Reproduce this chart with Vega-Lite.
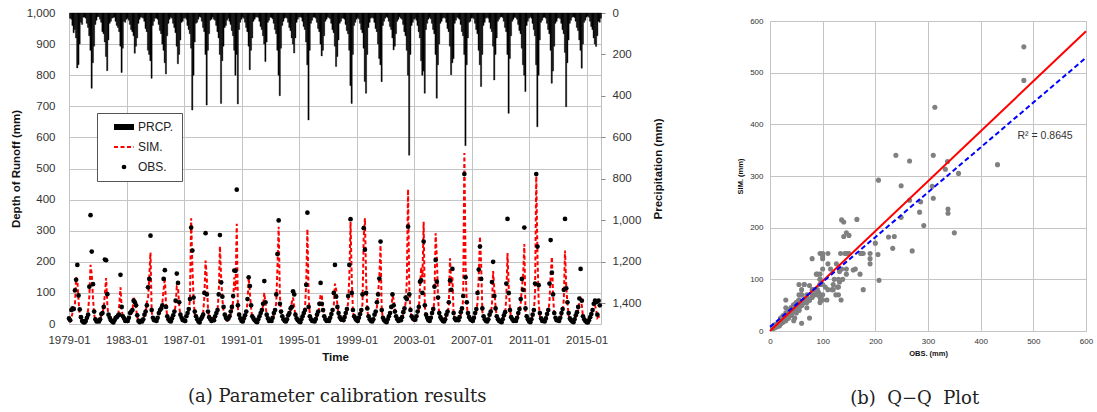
{
"$schema": "https://vega.github.io/schema/vega-lite/v6.json",
"background": "white",
"padding": {"left": 9, "top": 6, "right": 4, "bottom": 4},
"spacing": 71,
"config": {
  "view": {"stroke": "#bfbfbf"},
  "axis": {"labelFont": "Liberation Sans", "titleFont": "Liberation Sans", "labelColor": "#333333", "titleColor": "#111111", "gridColor": "#c4c4c4", "domain": false, "ticks": false, "labelFlush": false},
  "legend": {"strokeColor": "#555555", "fillColor": "white", "padding": 8, "rowPadding": 8, "symbolSize": 400, "symbolOffset": 13, "labelFont": "Liberation Sans", "labelFontSize": 12, "labelColor": "#222222", "labelOffset": 8, "symbolStrokeWidth": 2},
  "title": {"font": "DejaVu Serif", "fontWeight": "normal", "fontSize": 18, "color": "#222222", "frame": "bounds", "anchor": "middle"}
},
"datasets": {
"m": [
{"t":"1979-01","p":25,"s":10,"o":18},{"t":"1979-02","p":30,"s":8,"o":12},{"t":"1979-03","p":60,"s":20,"o":45},{"t":"1979-04","p":95,"s":35,"o":50},{"t":"1979-05","p":80,"s":40,"o":48},{"t":"1979-06","p":120,"s":60,"o":108},{"t":"1979-07","p":265,"s":150,"o":142},{"t":"1979-08","p":249,"s":140,"o":190},{"t":"1979-09","p":150,"s":75,"o":92},{"t":"1979-10","p":45,"s":25,"o":47},{"t":"1979-11","p":55,"s":18,"o":22},{"t":"1979-12","p":20,"s":10,"o":10},
{"t":"1980-01","p":20,"s":8,"o":6},{"t":"1980-02","p":25,"s":6,"o":5},{"t":"1980-03","p":50,"s":12,"o":10},{"t":"1980-04","p":70,"s":25,"o":20},{"t":"1980-05","p":110,"s":45,"o":30},{"t":"1980-06","p":180,"s":90,"o":120},{"t":"1980-07","p":363,"s":190,"o":350},{"t":"1980-08","p":240,"s":160,"o":233},{"t":"1980-09","p":160,"s":85,"o":128},{"t":"1980-10","p":55,"s":30,"o":40},{"t":"1980-11","p":35,"s":15,"o":15},{"t":"1980-12","p":18,"s":9,"o":8},
{"t":"1981-01","p":18,"s":7,"o":10},{"t":"1981-02","p":30,"s":6,"o":8},{"t":"1981-03","p":45,"s":14,"o":15},{"t":"1981-04","p":90,"s":30,"o":32},{"t":"1981-05","p":100,"s":40,"o":35},{"t":"1981-06","p":140,"s":50,"o":55},{"t":"1981-07","p":210,"s":98,"o":207},{"t":"1981-08","p":278,"s":148,"o":205},{"t":"1981-09","p":130,"s":60,"o":96},{"t":"1981-10","p":50,"s":25,"o":30},{"t":"1981-11","p":40,"s":18,"o":20},{"t":"1981-12","p":25,"s":10,"o":12},
{"t":"1982-01","p":22,"s":9,"o":8},{"t":"1982-02","p":20,"s":6,"o":5},{"t":"1982-03","p":40,"s":10,"o":12},{"t":"1982-04","p":60,"s":18,"o":20},{"t":"1982-05","p":70,"s":20,"o":22},{"t":"1982-06","p":90,"s":25,"o":28},{"t":"1982-07","p":160,"s":60,"o":30},{"t":"1982-08","p":287,"s":118,"o":158},{"t":"1982-09","p":170,"s":50,"o":55},{"t":"1982-10","p":40,"s":20,"o":25},{"t":"1982-11","p":45,"s":15,"o":18},{"t":"1982-12","p":30,"s":12,"o":10},
{"t":"1983-01","p":25,"s":10,"o":12},{"t":"1983-02","p":35,"s":9,"o":10},{"t":"1983-03","p":55,"s":16,"o":20},{"t":"1983-04","p":80,"s":28,"o":35},{"t":"1983-05","p":90,"s":32,"o":40},{"t":"1983-06","p":110,"s":40,"o":45},{"t":"1983-07","p":194,"s":88,"o":75},{"t":"1983-08","p":160,"s":70,"o":70},{"t":"1983-09","p":120,"s":50,"o":60},{"t":"1983-10","p":50,"s":22,"o":28},{"t":"1983-11","p":30,"s":12,"o":10},{"t":"1983-12","p":20,"s":8,"o":6},
{"t":"1984-01","p":20,"s":8,"o":10},{"t":"1984-02","p":25,"s":7,"o":8},{"t":"1984-03","p":40,"s":12,"o":15},{"t":"1984-04","p":75,"s":26,"o":30},{"t":"1984-05","p":90,"s":35,"o":40},{"t":"1984-06","p":180,"s":70,"o":60},{"t":"1984-07","p":200,"s":80,"o":118},{"t":"1984-08","p":230,"s":150,"o":145},{"t":"1984-09","p":315,"s":230,"o":284},{"t":"1984-10","p":60,"s":40,"o":45},{"t":"1984-11","p":40,"s":18,"o":20},{"t":"1984-12","p":25,"s":10,"o":12},
{"t":"1985-01","p":25,"s":10,"o":12},{"t":"1985-02","p":30,"s":9,"o":10},{"t":"1985-03","p":55,"s":15,"o":20},{"t":"1985-04","p":85,"s":30,"o":35},{"t":"1985-05","p":100,"s":40,"o":45},{"t":"1985-06","p":150,"s":55,"o":50},{"t":"1985-07","p":180,"s":70,"o":60},{"t":"1985-08","p":240,"s":110,"o":145},{"t":"1985-09","p":294,"s":150,"o":173},{"t":"1985-10","p":110,"s":60,"o":55},{"t":"1985-11","p":50,"s":22,"o":25},{"t":"1985-12","p":30,"s":12,"o":15},
{"t":"1986-01","p":20,"s":8,"o":10},{"t":"1986-02","p":25,"s":7,"o":8},{"t":"1986-03","p":50,"s":14,"o":18},{"t":"1986-04","p":70,"s":25,"o":28},{"t":"1986-05","p":95,"s":38,"o":40},{"t":"1986-06","p":160,"s":60,"o":75},{"t":"1986-07","p":245,"s":120,"o":162},{"t":"1986-08","p":200,"s":115,"o":132},{"t":"1986-09","p":130,"s":60,"o":70},{"t":"1986-10","p":45,"s":25,"o":30},{"t":"1986-11","p":40,"s":18,"o":20},{"t":"1986-12","p":25,"s":10,"o":12},
{"t":"1987-01","p":22,"s":9,"o":12},{"t":"1987-02","p":30,"s":8,"o":10},{"t":"1987-03","p":60,"s":18,"o":25},{"t":"1987-04","p":80,"s":30,"o":35},{"t":"1987-05","p":100,"s":40,"o":48},{"t":"1987-06","p":170,"s":80,"o":80},{"t":"1987-07","p":468,"s":340,"o":310},{"t":"1987-08","p":300,"s":183,"o":236},{"t":"1987-09","p":140,"s":80,"o":85},{"t":"1987-10","p":50,"s":30,"o":40},{"t":"1987-11","p":45,"s":20,"o":25},{"t":"1987-12","p":30,"s":12,"o":15},
{"t":"1988-01","p":18,"s":8,"o":8},{"t":"1988-02","p":20,"s":6,"o":5},{"t":"1988-03","p":40,"s":12,"o":15},{"t":"1988-04","p":70,"s":25,"o":22},{"t":"1988-05","p":90,"s":35,"o":30},{"t":"1988-06","p":200,"s":90,"o":100},{"t":"1988-07","p":444,"s":204,"o":292},{"t":"1988-08","p":180,"s":150,"o":95},{"t":"1988-09","p":100,"s":45,"o":40},{"t":"1988-10","p":35,"s":20,"o":22},{"t":"1988-11","p":30,"s":14,"o":15},{"t":"1988-12","p":20,"s":9,"o":10},
{"t":"1989-01","p":30,"s":10,"o":15},{"t":"1989-02","p":35,"s":9,"o":12},{"t":"1989-03","p":60,"s":18,"o":25},{"t":"1989-04","p":90,"s":32,"o":35},{"t":"1989-05","p":120,"s":45,"o":45},{"t":"1989-06","p":200,"s":100,"o":95},{"t":"1989-07","p":436,"s":250,"o":286},{"t":"1989-08","p":230,"s":150,"o":134},{"t":"1989-09","p":160,"s":80,"o":88},{"t":"1989-10","p":70,"s":40,"o":55},{"t":"1989-11","p":60,"s":25,"o":30},{"t":"1989-12","p":35,"s":14,"o":20},
{"t":"1990-01","p":25,"s":10,"o":15},{"t":"1990-02","p":40,"s":12,"o":18},{"t":"1990-03","p":55,"s":18,"o":25},{"t":"1990-04","p":85,"s":30,"o":40},{"t":"1990-05","p":110,"s":40,"o":55},{"t":"1990-06","p":180,"s":75,"o":90},{"t":"1990-07","p":300,"s":150,"o":172},{"t":"1990-08","p":200,"s":110,"o":171},{"t":"1990-09","p":439,"s":322,"o":432},{"t":"1990-10","p":80,"s":50,"o":60},{"t":"1990-11","p":45,"s":22,"o":30},{"t":"1990-12","p":30,"s":12,"o":18},
{"t":"1991-01","p":20,"s":8,"o":10},{"t":"1991-02","p":25,"s":7,"o":8},{"t":"1991-03","p":45,"s":14,"o":18},{"t":"1991-04","p":70,"s":25,"o":28},{"t":"1991-05","p":90,"s":35,"o":40},{"t":"1991-06","p":160,"s":70,"o":80},{"t":"1991-07","p":274,"s":150,"o":150},{"t":"1991-08","p":180,"s":100,"o":122},{"t":"1991-09","p":120,"s":50,"o":60},{"t":"1991-10","p":40,"s":20,"o":25},{"t":"1991-11","p":30,"s":15,"o":18},{"t":"1991-12","p":20,"s":9,"o":12},
{"t":"1992-01","p":18,"s":7,"o":8},{"t":"1992-02","p":22,"s":6,"o":6},{"t":"1992-03","p":40,"s":12,"o":15},{"t":"1992-04","p":65,"s":22,"o":25},{"t":"1992-05","p":80,"s":30,"o":35},{"t":"1992-06","p":110,"s":40,"o":45},{"t":"1992-07","p":150,"s":60,"o":65},{"t":"1992-08","p":234,"s":100,"o":138},{"t":"1992-09","p":140,"s":65,"o":70},{"t":"1992-10","p":45,"s":25,"o":30},{"t":"1992-11","p":35,"s":15,"o":18},{"t":"1992-12","p":20,"s":8,"o":10},
{"t":"1993-01","p":22,"s":9,"o":12},{"t":"1993-02","p":28,"s":8,"o":10},{"t":"1993-03","p":50,"s":15,"o":20},{"t":"1993-04","p":80,"s":30,"o":35},{"t":"1993-05","p":100,"s":40,"o":45},{"t":"1993-06","p":180,"s":70,"o":95},{"t":"1993-07","p":300,"s":182,"o":225},{"t":"1993-08","p":399,"s":313,"o":333},{"t":"1993-09","p":170,"s":90,"o":65},{"t":"1993-10","p":60,"s":35,"o":40},{"t":"1993-11","p":40,"s":20,"o":25},{"t":"1993-12","p":25,"s":12,"o":15},
{"t":"1994-01","p":20,"s":8,"o":10},{"t":"1994-02","p":25,"s":7,"o":8},{"t":"1994-03","p":45,"s":12,"o":15},{"t":"1994-04","p":70,"s":25,"o":28},{"t":"1994-05","p":85,"s":30,"o":35},{"t":"1994-06","p":120,"s":45,"o":50},{"t":"1994-07","p":150,"s":70,"o":55},{"t":"1994-08","p":193,"s":85,"o":105},{"t":"1994-09","p":120,"s":55,"o":95},{"t":"1994-10","p":45,"s":25,"o":30},{"t":"1994-11","p":30,"s":15,"o":18},{"t":"1994-12","p":20,"s":9,"o":12},
{"t":"1995-01","p":18,"s":7,"o":8},{"t":"1995-02","p":22,"s":6,"o":6},{"t":"1995-03","p":40,"s":12,"o":15},{"t":"1995-04","p":65,"s":22,"o":25},{"t":"1995-05","p":80,"s":30,"o":35},{"t":"1995-06","p":140,"s":50,"o":45},{"t":"1995-07","p":250,"s":130,"o":126},{"t":"1995-08","p":516,"s":305,"o":358},{"t":"1995-09","p":180,"s":90,"o":55},{"t":"1995-10","p":50,"s":30,"o":25},{"t":"1995-11","p":35,"s":15,"o":15},{"t":"1995-12","p":20,"s":8,"o":10},
{"t":"1996-01","p":20,"s":8,"o":10},{"t":"1996-02","p":25,"s":7,"o":8},{"t":"1996-03","p":45,"s":13,"o":16},{"t":"1996-04","p":75,"s":26,"o":30},{"t":"1996-05","p":90,"s":35,"o":40},{"t":"1996-06","p":150,"s":55,"o":65},{"t":"1996-07","p":207,"s":95,"o":132},{"t":"1996-08","p":180,"s":90,"o":65},{"t":"1996-09","p":110,"s":50,"o":45},{"t":"1996-10","p":40,"s":22,"o":25},{"t":"1996-11","p":30,"s":14,"o":15},{"t":"1996-12","p":20,"s":9,"o":10},
{"t":"1997-01","p":22,"s":9,"o":12},{"t":"1997-02","p":28,"s":8,"o":10},{"t":"1997-03","p":50,"s":15,"o":20},{"t":"1997-04","p":80,"s":28,"o":32},{"t":"1997-05","p":95,"s":38,"o":45},{"t":"1997-06","p":160,"s":60,"o":100},{"t":"1997-07","p":258,"s":130,"o":190},{"t":"1997-08","p":210,"s":110,"o":88},{"t":"1997-09","p":130,"s":60,"o":55},{"t":"1997-10","p":50,"s":28,"o":35},{"t":"1997-11","p":40,"s":18,"o":22},{"t":"1997-12","p":25,"s":10,"o":15},
{"t":"1998-01","p":25,"s":10,"o":15},{"t":"1998-02","p":30,"s":9,"o":12},{"t":"1998-03","p":55,"s":16,"o":22},{"t":"1998-04","p":85,"s":30,"o":35},{"t":"1998-05","p":100,"s":40,"o":48},{"t":"1998-06","p":180,"s":70,"o":90},{"t":"1998-07","p":350,"s":150,"o":190},{"t":"1998-08","p":436,"s":328,"o":337},{"t":"1998-09","p":200,"s":145,"o":100},{"t":"1998-10","p":60,"s":40,"o":45},{"t":"1998-11","p":45,"s":22,"o":25},{"t":"1998-12","p":30,"s":12,"o":18},
{"t":"1999-01","p":22,"s":9,"o":12},{"t":"1999-02","p":28,"s":8,"o":10},{"t":"1999-03","p":50,"s":15,"o":20},{"t":"1999-04","p":80,"s":28,"o":32},{"t":"1999-05","p":95,"s":38,"o":45},{"t":"1999-06","p":170,"s":65,"o":95},{"t":"1999-07","p":330,"s":280,"o":308},{"t":"1999-08","p":387,"s":340,"o":239},{"t":"1999-09","p":200,"s":140,"o":100},{"t":"1999-10","p":70,"s":45,"o":50},{"t":"1999-11","p":45,"s":20,"o":25},{"t":"1999-12","p":25,"s":12,"o":15},
{"t":"2000-01","p":20,"s":8,"o":10},{"t":"2000-02","p":25,"s":7,"o":8},{"t":"2000-03","p":45,"s":13,"o":15},{"t":"2000-04","p":75,"s":26,"o":30},{"t":"2000-05","p":90,"s":35,"o":40},{"t":"2000-06","p":150,"s":55,"o":70},{"t":"2000-07","p":220,"s":100,"o":95},{"t":"2000-08","p":250,"s":150,"o":146},{"t":"2000-09","p":331,"s":253,"o":265},{"t":"2000-10","p":60,"s":45,"o":45},{"t":"2000-11","p":40,"s":18,"o":20},{"t":"2000-12","p":25,"s":10,"o":12},
{"t":"2001-01","p":18,"s":7,"o":8},{"t":"2001-02","p":22,"s":6,"o":6},{"t":"2001-03","p":40,"s":12,"o":15},{"t":"2001-04","p":65,"s":22,"o":25},{"t":"2001-05","p":80,"s":30,"o":35},{"t":"2001-06","p":120,"s":45,"o":55},{"t":"2001-07","p":178,"s":90,"o":95},{"t":"2001-08","p":160,"s":80,"o":60},{"t":"2001-09","p":100,"s":45,"o":40},{"t":"2001-10","p":40,"s":20,"o":25},{"t":"2001-11","p":30,"s":14,"o":15},{"t":"2001-12","p":18,"s":8,"o":10},
{"t":"2002-01","p":25,"s":10,"o":15},{"t":"2002-02","p":30,"s":9,"o":12},{"t":"2002-03","p":55,"s":16,"o":22},{"t":"2002-04","p":90,"s":30,"o":38},{"t":"2002-05","p":110,"s":42,"o":50},{"t":"2002-06","p":180,"s":70,"o":85},{"t":"2002-07","p":300,"s":140,"o":80},{"t":"2002-08","p":686,"s":433,"o":313},{"t":"2002-09","p":200,"s":110,"o":95},{"t":"2002-10","p":60,"s":40,"o":45},{"t":"2002-11","p":45,"s":20,"o":25},{"t":"2002-12","p":30,"s":12,"o":18},
{"t":"2003-01","p":25,"s":10,"o":15},{"t":"2003-02","p":35,"s":10,"o":14},{"t":"2003-03","p":60,"s":18,"o":25},{"t":"2003-04","p":90,"s":32,"o":40},{"t":"2003-05","p":120,"s":45,"o":55},{"t":"2003-06","p":230,"s":120,"o":136},{"t":"2003-07","p":300,"s":183,"o":140},{"t":"2003-08","p":280,"s":150,"o":100},{"t":"2003-09","p":387,"s":329,"o":265},{"t":"2003-10","p":80,"s":55,"o":60},{"t":"2003-11","p":50,"s":25,"o":30},{"t":"2003-12","p":30,"s":14,"o":20},
{"t":"2004-01","p":22,"s":9,"o":12},{"t":"2004-02","p":28,"s":8,"o":10},{"t":"2004-03","p":50,"s":15,"o":20},{"t":"2004-04","p":80,"s":28,"o":35},{"t":"2004-05","p":100,"s":40,"o":48},{"t":"2004-06","p":200,"s":80,"o":120},{"t":"2004-07","p":411,"s":292,"o":206},{"t":"2004-08","p":250,"s":215,"o":136},{"t":"2004-09","p":150,"s":80,"o":85},{"t":"2004-10","p":50,"s":30,"o":35},{"t":"2004-11","p":40,"s":18,"o":22},{"t":"2004-12","p":25,"s":10,"o":15},
{"t":"2005-01","p":20,"s":8,"o":10},{"t":"2005-02","p":25,"s":7,"o":8},{"t":"2005-03","p":45,"s":13,"o":15},{"t":"2005-04","p":75,"s":26,"o":30},{"t":"2005-05","p":90,"s":35,"o":40},{"t":"2005-06","p":160,"s":60,"o":70},{"t":"2005-07","p":298,"s":211,"o":140},{"t":"2005-08","p":240,"s":130,"o":110},{"t":"2005-09","p":220,"s":150,"o":177},{"t":"2005-10","p":50,"s":30,"o":35},{"t":"2005-11","p":35,"s":16,"o":18},{"t":"2005-12","p":20,"s":9,"o":12},
{"t":"2006-01","p":25,"s":10,"o":15},{"t":"2006-02","p":30,"s":9,"o":12},{"t":"2006-03","p":55,"s":16,"o":22},{"t":"2006-04","p":90,"s":30,"o":38},{"t":"2006-05","p":110,"s":42,"o":50},{"t":"2006-06","p":200,"s":80,"o":90},{"t":"2006-07","p":640,"s":550,"o":482},{"t":"2006-08","p":250,"s":185,"o":150},{"t":"2006-09","p":120,"s":60,"o":70},{"t":"2006-10","p":45,"s":25,"o":35},{"t":"2006-11","p":40,"s":18,"o":22},{"t":"2006-12","p":25,"s":10,"o":15},
{"t":"2007-01","p":22,"s":9,"o":12},{"t":"2007-02","p":28,"s":8,"o":10},{"t":"2007-03","p":50,"s":15,"o":20},{"t":"2007-04","p":80,"s":28,"o":35},{"t":"2007-05","p":100,"s":40,"o":48},{"t":"2007-06","p":180,"s":70,"o":100},{"t":"2007-07","p":250,"s":150,"o":175},{"t":"2007-08","p":355,"s":281,"o":249},{"t":"2007-09","p":200,"s":190,"o":145},{"t":"2007-10","p":60,"s":40,"o":50},{"t":"2007-11","p":45,"s":20,"o":25},{"t":"2007-12","p":25,"s":12,"o":15},
{"t":"2008-01","p":20,"s":8,"o":10},{"t":"2008-02","p":25,"s":7,"o":8},{"t":"2008-03","p":45,"s":13,"o":15},{"t":"2008-04","p":75,"s":26,"o":30},{"t":"2008-05","p":90,"s":35,"o":40},{"t":"2008-06","p":160,"s":60,"o":135},{"t":"2008-07","p":323,"s":170,"o":200},{"t":"2008-08","p":200,"s":110,"o":90},{"t":"2008-09","p":120,"s":55,"o":50},{"t":"2008-10","p":40,"s":22,"o":25},{"t":"2008-11","p":30,"s":14,"o":15},{"t":"2008-12","p":20,"s":9,"o":10},
{"t":"2009-01","p":18,"s":7,"o":8},{"t":"2009-02","p":22,"s":6,"o":6},{"t":"2009-03","p":40,"s":12,"o":15},{"t":"2009-04","p":70,"s":24,"o":28},{"t":"2009-05","p":90,"s":34,"o":38},{"t":"2009-06","p":200,"s":85,"o":130},{"t":"2009-07","p":484,"s":228,"o":338},{"t":"2009-08","p":220,"s":120,"o":100},{"t":"2009-09","p":110,"s":50,"o":45},{"t":"2009-10","p":40,"s":20,"o":22},{"t":"2009-11","p":30,"s":14,"o":15},{"t":"2009-12","p":20,"s":8,"o":10},
{"t":"2010-01","p":22,"s":9,"o":12},{"t":"2010-02","p":30,"s":8,"o":10},{"t":"2010-03","p":55,"s":16,"o":20},{"t":"2010-04","p":85,"s":30,"o":35},{"t":"2010-05","p":100,"s":40,"o":48},{"t":"2010-06","p":170,"s":65,"o":80},{"t":"2010-07","p":250,"s":120,"o":145},{"t":"2010-08","p":300,"s":150,"o":110},{"t":"2010-09","p":379,"s":257,"o":310},{"t":"2010-10","p":60,"s":40,"o":50},{"t":"2010-11","p":40,"s":20,"o":25},{"t":"2010-12","p":25,"s":12,"o":15},
{"t":"2011-01","p":18,"s":7,"o":8},{"t":"2011-02","p":25,"s":7,"o":6},{"t":"2011-03","p":50,"s":14,"o":15},{"t":"2011-04","p":80,"s":28,"o":30},{"t":"2011-05","p":110,"s":42,"o":45},{"t":"2011-06","p":250,"s":100,"o":130},{"t":"2011-07","p":549,"s":485,"o":482},{"t":"2011-08","p":300,"s":220,"o":249},{"t":"2011-09","p":130,"s":70,"o":125},{"t":"2011-10","p":45,"s":25,"o":35},{"t":"2011-11","p":35,"s":15,"o":18},{"t":"2011-12","p":22,"s":9,"o":10},
{"t":"2012-01","p":20,"s":8,"o":10},{"t":"2012-02","p":25,"s":7,"o":8},{"t":"2012-03","p":50,"s":15,"o":18},{"t":"2012-04","p":80,"s":28,"o":32},{"t":"2012-05","p":100,"s":40,"o":45},{"t":"2012-06","p":180,"s":70,"o":130},{"t":"2012-07","p":339,"s":155,"o":270},{"t":"2012-08","p":280,"s":216,"o":165},{"t":"2012-09","p":160,"s":90,"o":95},{"t":"2012-10","p":50,"s":30,"o":35},{"t":"2012-11","p":40,"s":18,"o":20},{"t":"2012-12","p":25,"s":10,"o":12},
{"t":"2013-01","p":22,"s":9,"o":12},{"t":"2013-02","p":28,"s":8,"o":10},{"t":"2013-03","p":50,"s":15,"o":20},{"t":"2013-04","p":80,"s":28,"o":35},{"t":"2013-05","p":100,"s":40,"o":48},{"t":"2013-06","p":190,"s":80,"o":110},{"t":"2013-07","p":452,"s":236,"o":338},{"t":"2013-08","p":240,"s":120,"o":115},{"t":"2013-09","p":130,"s":65,"o":70},{"t":"2013-10","p":50,"s":28,"o":35},{"t":"2013-11","p":35,"s":16,"o":18},{"t":"2013-12","p":20,"s":9,"o":12},
{"t":"2014-01","p":18,"s":7,"o":8},{"t":"2014-02","p":22,"s":6,"o":6},{"t":"2014-03","p":40,"s":12,"o":15},{"t":"2014-04","p":70,"s":24,"o":28},{"t":"2014-05","p":85,"s":32,"o":38},{"t":"2014-06","p":130,"s":45,"o":55},{"t":"2014-07","p":180,"s":70,"o":82},{"t":"2014-08","p":266,"s":80,"o":177},{"t":"2014-09","p":150,"s":60,"o":75},{"t":"2014-10","p":45,"s":22,"o":25},{"t":"2014-11","p":35,"s":14,"o":15},{"t":"2014-12","p":20,"s":8,"o":10},
{"t":"2015-01","p":15,"s":6,"o":6},{"t":"2015-02","p":20,"s":5,"o":5},{"t":"2015-03","p":40,"s":10,"o":12},{"t":"2015-04","p":65,"s":20,"o":22},{"t":"2015-05","p":80,"s":28,"o":32},{"t":"2015-06","p":120,"s":40,"o":45},{"t":"2015-07","p":150,"s":55,"o":65},{"t":"2015-08","p":161,"s":60,"o":75},{"t":"2015-09","p":110,"s":45,"o":70},{"t":"2015-10","p":40,"s":20,"o":30},{"t":"2015-11","p":45,"s":25,"o":75},{"t":"2015-12","p":25,"s":15,"o":60}
]
},
"hconcat": [
{
  "width": 532,
  "height": 311,
  "title": {"text": "(a) Parameter calibration results", "orient": "bottom", "offset": 25},
  "data": {"name": "m"},
  "layer": [
    {
      "mark": {"type": "bar", "binSpacing": 0, "stroke": "#000000", "strokeWidth": 0.4},
      "encoding": {
        "x": {"field": "t", "type": "temporal", "timeUnit": "utcyearmonth",
          "scale": {"domain": [{"year": 1979, "month": 1, "date": 1, "utc": true}, {"year": 2016, "month": 1, "date": 1, "utc": true}], "nice": false},
          "axis": {
            "values": [
              {"year": 1979, "month": 1, "date": 1, "utc": true}, {"year": 1983, "month": 1, "date": 1, "utc": true},
              {"year": 1987, "month": 1, "date": 1, "utc": true}, {"year": 1991, "month": 1, "date": 1, "utc": true},
              {"year": 1995, "month": 1, "date": 1, "utc": true}, {"year": 1999, "month": 1, "date": 1, "utc": true},
              {"year": 2003, "month": 1, "date": 1, "utc": true}, {"year": 2007, "month": 1, "date": 1, "utc": true},
              {"year": 2011, "month": 1, "date": 1, "utc": true}, {"year": 2015, "month": 1, "date": 1, "utc": true}],
            "tickCount": {"interval": "year", "step": 1},
            "labelExpr": "(utcyear(datum.value) - 1979) % 4 == 0 ? utcFormat(datum.value, '%Y-%m') : ''",
            "labelOverlap": false, "labelFlush": false,
            "grid": true,
            "gridOpacity": {"condition": {"test": "(utcyear(datum.value) - 1979) % 4 == 0", "value": 1}, "value": 0},
            "labelFontSize": 11.5, "labelPadding": 10,
            "title": "Time", "titleFontSize": 11.5, "titleFontWeight": "bold", "titlePadding": 6}
        },
        "y": {"field": "p", "type": "quantitative",
          "scale": {"domain": [0, 1500], "reverse": true, "nice": false, "zero": true},
          "axis": {"orient": "right", "values": [0, 200, 400, 600, 800, 1000, 1200, 1400], "tickCount": 20, "format": ",d", "grid": false, "labelOverlap": false,
            "ticks": true, "tickSize": 4, "tickColor": "#888888", "labelFontSize": 11.5, "labelPadding": 7,
            "title": "Precipitation (mm)", "titleAngle": 270, "titleBaseline": "top", "titleFontSize": 11.5, "titleFontWeight": "bold", "titlePadding": 12}},
        "color": {"datum": "PRCP.", "type": "nominal",
          "scale": {"domain": ["PRCP.", "SIM.", "OBS."], "range": ["#000000", "#ff0000", "#000000"]},
          "legend": {"title": null, "orient": "none", "legendX": 28, "legendY": 100,
            "encode": {"symbols": {"update": {
              "shape": {"signal": "datum.value === 'PRCP.' ? 'M-1,-0.3H1V0.3H-1Z' : (datum.value === 'SIM.' ? 'M-1,0H1' : 'circle')"},
              "size": {"signal": "datum.value === 'OBS.' ? 22 : 400"},
              "fill": {"signal": "datum.value === 'SIM.' ? 'transparent' : '#000000'"},
              "stroke": {"signal": "datum.value === 'SIM.' ? '#ff0000' : '#000000'"},
              "strokeWidth": {"signal": "datum.value === 'SIM.' ? 2 : 0"},
              "strokeDash": {"signal": "datum.value === 'SIM.' ? [4, 2.5] : [1, 0]"},
              "opacity": {"value": 1}
            }}}}
        }
      }
    },
    {
      "mark": {"type": "line", "strokeWidth": 2, "strokeDash": [4, 2.5]},
      "encoding": {
        "x": {"field": "t", "type": "temporal", "timeUnit": "utcyearmonth", "axis": null},
        "y": {"field": "s", "type": "quantitative",
          "scale": {"domain": [0, 1000], "nice": false},
          "axis": {"orient": "left", "values": [0, 100, 200, 300, 400, 500, 600, 700, 800, 900, 1000], "tickCount": 20, "format": ",d", "grid": true, "labelOverlap": false,
            "labelFontSize": 11.5, "labelPadding": 14,
            "title": "Depth of Runoff (mm)", "titleFontSize": 11.5, "titleFontWeight": "bold", "titlePadding": 5}},
        "color": {"datum": "SIM.", "type": "nominal",
          "legend": {"title": null, "orient": "none", "legendX": 28, "legendY": 100,
            "encode": {"symbols": {"update": {
              "shape": {"signal": "datum.value === 'PRCP.' ? 'M-1,-0.3H1V0.3H-1Z' : (datum.value === 'SIM.' ? 'M-1,0H1' : 'circle')"},
              "size": {"signal": "datum.value === 'OBS.' ? 22 : 400"},
              "fill": {"signal": "datum.value === 'SIM.' ? 'transparent' : '#000000'"},
              "stroke": {"signal": "datum.value === 'SIM.' ? '#ff0000' : '#000000'"},
              "strokeWidth": {"signal": "datum.value === 'SIM.' ? 2 : 0"},
              "strokeDash": {"signal": "datum.value === 'SIM.' ? [4, 2.5] : [1, 0]"},
              "opacity": {"value": 1}
            }}}}}
      }
    },
    {
      "mark": {"type": "point", "filled": true, "size": 22, "opacity": 1},
      "encoding": {
        "x": {"field": "t", "type": "temporal", "timeUnit": "utcyearmonth", "axis": null},
        "y": {"field": "o", "type": "quantitative", "scale": {"domain": [0, 1000], "nice": false}, "axis": null},
        "color": {"datum": "OBS.", "type": "nominal",
          "legend": {"title": null, "orient": "none", "legendX": 28, "legendY": 100,
            "encode": {"symbols": {"update": {
              "shape": {"signal": "datum.value === 'PRCP.' ? 'M-1,-0.3H1V0.3H-1Z' : (datum.value === 'SIM.' ? 'M-1,0H1' : 'circle')"},
              "size": {"signal": "datum.value === 'OBS.' ? 22 : 400"},
              "fill": {"signal": "datum.value === 'SIM.' ? 'transparent' : '#000000'"},
              "stroke": {"signal": "datum.value === 'SIM.' ? '#ff0000' : '#000000'"},
              "strokeWidth": {"signal": "datum.value === 'SIM.' ? 2 : 0"},
              "strokeDash": {"signal": "datum.value === 'SIM.' ? [4, 2.5] : [1, 0]"},
              "opacity": {"value": 1}
            }}}}}
      }
    }
  ],
  "resolve": {"scale": {"y": "independent"}, "axis": {"x": "independent", "y": "independent"}}
},
{
  "spacing": 2,
  "vconcat": [
    {
      "width": 316,
      "height": 1,
      "view": {"stroke": null},
      "data": {"values": []},
      "mark": {"type": "point", "opacity": 0},
      "encoding": {}
    },
    {
      "width": 316,
      "height": 310,
      "title": {"text": "(b)\u00a0\u00a0Q\u2212Q\u00a0\u00a0Plot", "orient": "bottom", "offset": 33},
      "layer": [
        {
          "data": {"name": "m"},
          "mark": {"type": "circle", "color": "#808080", "opacity": 1, "size": 26},
          "encoding": {
            "x": {"field": "o", "type": "quantitative", "scale": {"domain": [0, 600], "nice": false},
              "axis": {"values": [0, 100, 200, 300, 400, 500, 600], "tickCount": 20, "grid": true, "labelOverlap": false, "labelFontSize": 8, "labelPadding": 6,
                "title": "OBS. (mm)", "titleFontSize": 7.5, "titleFontWeight": "bold", "titlePadding": 4}},
            "y": {"field": "s", "type": "quantitative", "scale": {"domain": [0, 600], "nice": false},
              "axis": {"values": [0, 100, 200, 300, 400, 500, 600], "tickCount": 20, "grid": true, "labelOverlap": false, "labelFontSize": 8, "labelPadding": 7,
                "title": "SIM. (mm)", "titleFontSize": 7.5, "titleFontWeight": "bold", "titlePadding": 5}}
          }
        },
        {
          "data": {"values": [{"ox": 0, "sy": 0}, {"ox": 600, "sy": 580}]},
          "mark": {"type": "line", "color": "#ff0000", "strokeWidth": 2},
          "encoding": {"x": {"field": "ox", "type": "quantitative", "axis": null}, "y": {"field": "sy", "type": "quantitative", "axis": null}}
        },
        {
          "data": {"values": [{"ox": 0, "sy": 8}, {"ox": 600, "sy": 529}]},
          "mark": {"type": "line", "color": "#0000ff", "strokeWidth": 2, "strokeDash": [5, 3]},
          "encoding": {"x": {"field": "ox", "type": "quantitative", "axis": null}, "y": {"field": "sy", "type": "quantitative", "axis": null}}
        },
        {
          "data": {"values": [{"ox": 470, "sy": 377, "label": "R\u00b2 = 0.8645"}]},
          "mark": {"type": "text", "align": "left", "baseline": "middle", "font": "Liberation Sans", "fontSize": 10.5, "color": "#333333"},
          "encoding": {
            "x": {"field": "ox", "type": "quantitative", "axis": null},
            "y": {"field": "sy", "type": "quantitative", "axis": null},
            "text": {"field": "label"}}
        }
      ],
      "resolve": {"axis": {"x": "independent", "y": "independent"}}
    }
  ]
}
]
}
